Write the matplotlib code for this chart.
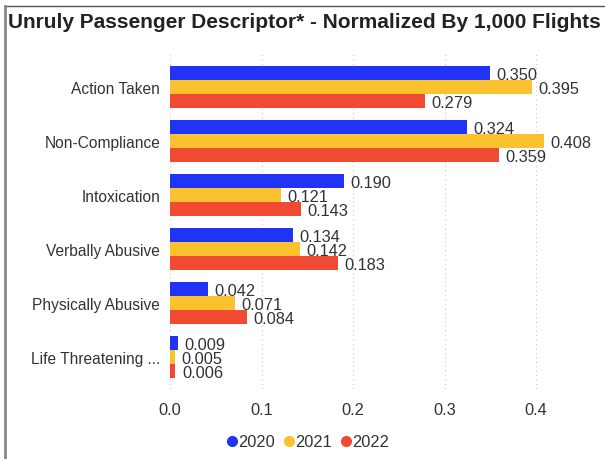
import matplotlib.pyplot as plt
import numpy as np
from matplotlib.lines import Line2D

plt.rcParams['font.family'] = ['Liberation Sans', 'DejaVu Sans']

# data
categories = ['Action Taken', 'Non-Compliance', 'Intoxication', 'Verbally Abusive',
              'Physically Abusive', 'Life Threatening ...']
years = ['2020', '2021', '2022']
v2020 = [0.350, 0.324, 0.190, 0.134, 0.042, 0.009]
v2021 = [0.395, 0.408, 0.121, 0.142, 0.071, 0.005]
v2022 = [0.279, 0.359, 0.143, 0.183, 0.084, 0.006]
colors = ['#2133F5', '#F9C22E', '#F04A33']

fig = plt.figure(figsize=(6.05, 4.6), dpi=100)
ax = fig.add_axes([0.281, 0.152, 0.681, 0.728])

y = np.arange(len(categories))
h = 0.258
for k, (vals, c, lab) in enumerate(zip([v2020, v2021, v2022], colors, years)):
    pos = y + (k - 1) * h
    ax.barh(pos, vals, height=h, color=c, label=lab, zorder=3)
    for p, v in zip(pos, vals):
        ax.text(v + 0.007, p + 0.03, f'{v:.3f}', va='center', ha='left',
                fontsize=11.8, color='#333333', zorder=4)

ax.set_xlim(0, 0.45)
ax.set_ylim(5.6, -0.6)
ax.set_yticks(y)
ax.set_yticklabels(categories, fontsize=11.2, color='#333333')
ax.set_xticks([0, 0.1, 0.2, 0.3, 0.4])
ax.set_xticklabels(['0.0', '0.1', '0.2', '0.3', '0.4'], fontsize=11.8, color='#333333')
ax.tick_params(length=0, pad=7)
ax.tick_params(axis='x', pad=9)
for s in ax.spines.values():
    s.set_visible(False)
ax.grid(axis='x', linestyle=(0, (1, 3)), color='#c8c8c8', linewidth=0.8, zorder=0)

handles = [Line2D([], [], marker='o', linestyle='', color=c, markersize=7) for c in colors]
fig.legend(handles, years, loc='center', bbox_to_anchor=(0.509, 0.037), ncol=3,
           frameon=False, fontsize=11.8, handlelength=0.6, handletextpad=0.1,
           columnspacing=0.55, labelcolor='#333333')

fig.text(0.013, 0.952, 'Unruly Passenger Descriptor* - Normalized By 1,000 Flights',
         fontsize=15, fontweight='bold', color='#222222', va='center', ha='left')

# frame lines
fig.add_artist(Line2D([0.009, 1], [0.985, 0.985], color='#555555', linewidth=1))
fig.add_artist(Line2D([0.009, 0.009], [0, 0.985], color='#888888', linewidth=2))

fig.savefig('out.png', dpi=100)
